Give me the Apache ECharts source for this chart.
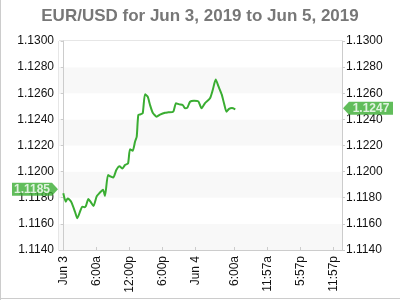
<!DOCTYPE html>
<html>
<head>
<meta charset="utf-8">
<script src="https://cdn.jsdelivr.net/npm/echarts@6/dist/echarts.min.js"></script>
<style>
html,body{margin:0;padding:0;background:#fff;}
#chart{width:400px;height:300px;}
</style>
</head>
<body>
<div id="chart"></div>
<script>
// hours from Jun 3 00:00 (chart time scale)
const hours = [-0.07,0.37,0.70,1.02,1.42,2.06,2.48,2.97,3.39,3.79,4.06,4.48,4.93,5.42,6.00,6.51,7.15,7.51,8.06,8.60,9.02,9.57,10.15,10.70,11.15,11.70,12.06,12.55,12.97,13.28,13.57,14.00,14.37,14.79,15.28,15.70,16.19,16.91,17.51,18.42,19.02,19.93,20.42,21.02,21.64,22.06,22.48,22.97,23.70,24.48,25.06,25.70,26.60,27.10,27.64,28.15,28.73,29.15,29.60,30.06,30.60,31.20];
const rates = [1.11834,1.11770,1.11794,1.11787,1.11764,1.11693,1.11643,1.11693,1.11732,1.11727,1.11739,1.11790,1.11767,1.11737,1.11811,1.11836,1.11862,1.11813,1.11974,1.11961,1.11955,1.12012,1.12041,1.12024,1.12051,1.12062,1.12171,1.12160,1.12229,1.12267,1.12434,1.12439,1.12447,1.12592,1.12574,1.12510,1.12451,1.12421,1.12436,1.12451,1.12454,1.12459,1.12523,1.12515,1.12510,1.12485,1.12489,1.12535,1.12543,1.12538,1.12485,1.12525,1.12561,1.12625,1.12705,1.12652,1.12591,1.12523,1.12459,1.12480,1.12487,1.12477];
const xTickValues = [0,6,12,18,24,31,37,43,49];
const xTickLabels = ['Jun 3','6:00a','12:00p','6:00p','Jun 4','6:00a','11:57a','5:57p','11:57p'];
const openRate = 1.1185;
const lastRate = 1.1247;
const titleText = 'EUR/USD for Jun 3, 2019 to Jun 5, 2019';

const X_MIN = -0.85, X_MAX = 50.6;
const GREEN = '#3aad32';
const FONT = 'Liberation Sans, Arial, sans-serif';

const chart = echarts.init(document.getElementById('chart'), null, {renderer:'canvas'});
const yAxisBase = {
  type:'value', min:1.114, max:1.130, interval:0.002,
  axisLine:{show:true, lineStyle:{color:'#ccc'}},
  axisTick:{show:true, length:3, lineStyle:{color:'#ccc'}},
  splitLine:{show:false},
  axisLabel:{color:'#111', fontSize:12, fontFamily:FONT, formatter:v=>v.toFixed(4)}
};
chart.setOption({
  animation:false,
  title:{text:titleText, left:'center', top:3,
    textStyle:{color:'#777', fontSize:17, fontWeight:'bold', fontFamily:FONT}},
  grid:{left:59, right:58, top:41, bottom:50, show:true, borderColor:'#ccc', borderWidth:1, backgroundColor:'transparent'},
  xAxis:{
    type:'value', min:X_MIN, max:X_MAX,
    axisLine:{show:true, lineStyle:{color:'#ccc'}},
    axisTick:{show:true, inside:true, length:3, customValues:xTickValues, lineStyle:{color:'#ccc'}},
    splitLine:{show:false},
    axisLabel:{rotate:90, margin:6, color:'#111', fontSize:12, fontFamily:FONT,
      customValues:xTickValues,
      formatter:v=>{const i=xTickValues.indexOf(v); return i>=0?xTickLabels[i]:'';}}
  },
  yAxis:[
    Object.assign({}, yAxisBase, {position:'left', splitArea:{show:true, areaStyle:{color:['#f8f8f8','#ffffff']}},
      axisLabel:Object.assign({}, yAxisBase.axisLabel, {margin:5})}),
    Object.assign({}, yAxisBase, {position:'right', splitArea:{show:false},
      axisLabel:Object.assign({}, yAxisBase.axisLabel, {margin:4})})
  ],
  graphic:[
    {type:'line', shape:{x1:0.5,y1:0,x2:0.5,y2:300}, style:{stroke:'#ccc', lineWidth:1}},
    {type:'line', shape:{x1:0,y1:298.5,x2:400,y2:298.5}, style:{stroke:'#ccc', lineWidth:1}},
    {type:'circle', shape:{cx:272, cy:236, r:5}, style:{fill:'#d8d8d8'}},
    {type:'text', left:279, top:229, style:{text:'OANDA', fill:'#d6d6d6', font:'14px '+FONT}}
  ],
  series:[
    {type:'line', data:hours.map((h,i)=>[h, rates[i]]), showSymbol:false, smooth:0.2,
      lineStyle:{color:GREEN, width:2}, itemStyle:{color:GREEN}, z:3},
    {type:'scatter', yAxisIndex:0, data:[[X_MIN, openRate]], clip:false, silent:true, z:5,
      symbol:'path://M0,0L40,0L46,6.5L40,13L0,13Z', symbolSize:[46,13], symbolKeepAspect:false,
      symbolOffset:[-24,-2], itemStyle:{color:GREEN},
      label:{show:true, position:'inside', offset:[-3,0], formatter:()=>openRate.toFixed(4),
        color:'#fff', fontWeight:'bold', fontSize:12, fontFamily:FONT}},
    {type:'scatter', yAxisIndex:1, data:[[X_MAX, lastRate]], clip:false, silent:true, z:5,
      symbol:'path://M6,0L50,0L50,13L6,13L0,6.5Z', symbolSize:[50,13], symbolKeepAspect:false,
      symbolOffset:[26,-2], itemStyle:{color:GREEN},
      label:{show:true, position:'inside', offset:[3,0], formatter:()=>lastRate.toFixed(4),
        color:'#fff', fontWeight:'bold', fontSize:12, fontFamily:FONT}}
  ]
});
</script>
</body>
</html>
